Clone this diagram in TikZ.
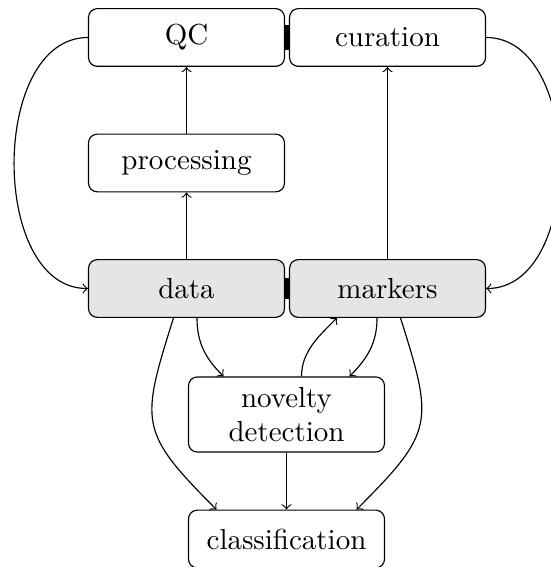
\documentclass[tikz,border=0pt]{standalone}
\usetikzlibrary{calc}
\tikzset{
  box/.style={draw, rounded corners=3pt, minimum width=67.6pt,
    minimum height=19.9pt, inner sep=2pt, align=center},
  shaded/.style={box, fill=black!10},
  flow/.style={->},
  joint/.style={fill=black},
}
\begin{document}
\begin{tikzpicture}[x=0.345pt, y=-0.345pt]
\useasboundingbox (0,0) rectangle (550,567);

% boxes
\node[box] (qc) at (186.5,37.5) {QC};
\node[box] (cur) at (387.5,37.5) {curation};
\node[box] (proc) at (186.5,163) {processing};
\node[shaded] (data) at (186.5,288.5) {data};
\node[shaded] (mark) at (387.5,288.5) {markers};
\node[box, minimum height=25.9pt] (nov) at (286.5,414.5) {novelty\\detection};
\node[box] (cls) at (286.5,539) {classification};

% joints between neighbouring boxes
\fill[joint] ($(qc.east)+(0,-12.5)$) rectangle ($(cur.west)+(0,12.5)$);
\fill[joint] ($(data.east)+(0,-10.5)$) rectangle ($(mark.west)+(0,10.5)$);

% straight connectors
\draw[flow] (proc) -- (qc);
\draw[flow] (data) -- (proc);
\draw[flow] (mark) -- (cur);
\draw[flow] (nov) -- (cls);

% outer loops
\draw[flow] (qc.west) .. controls +(-98.3,0) and +(-98.3,0) .. (data.west);
\draw[flow] (cur.east) .. controls +(98.3,0) and +(98.3,0) .. (mark.east);

% connectors around novelty detection
\draw[flow] ($(data.south)+(10.5,0)$) .. controls +(0,25) and +(-18,-18) .. ($(nov.north)+(-63,0)$);
\draw[flow] ($(mark.south)+(-10.5,0)$) .. controls +(0,25) and +(18,-18) .. ($(nov.north)+(63,0)$);
\draw[flow] ($(nov.north)+(15,0)$) .. controls +(0,-25) and +(-18,18) .. ($(mark.south)+(-50.5,0)$);

% long connectors to classification
\draw[flow] ($(data.south)+(-13,0)$) .. controls +(-33,105) and +(-78,-78) .. ($(cls.north)+(-70,0)$);
\draw[flow] ($(mark.south)+(13,0)$) .. controls +(33,105) and +(78,-78) .. ($(cls.north)+(70,0)$);
\end{tikzpicture}
\end{document}
